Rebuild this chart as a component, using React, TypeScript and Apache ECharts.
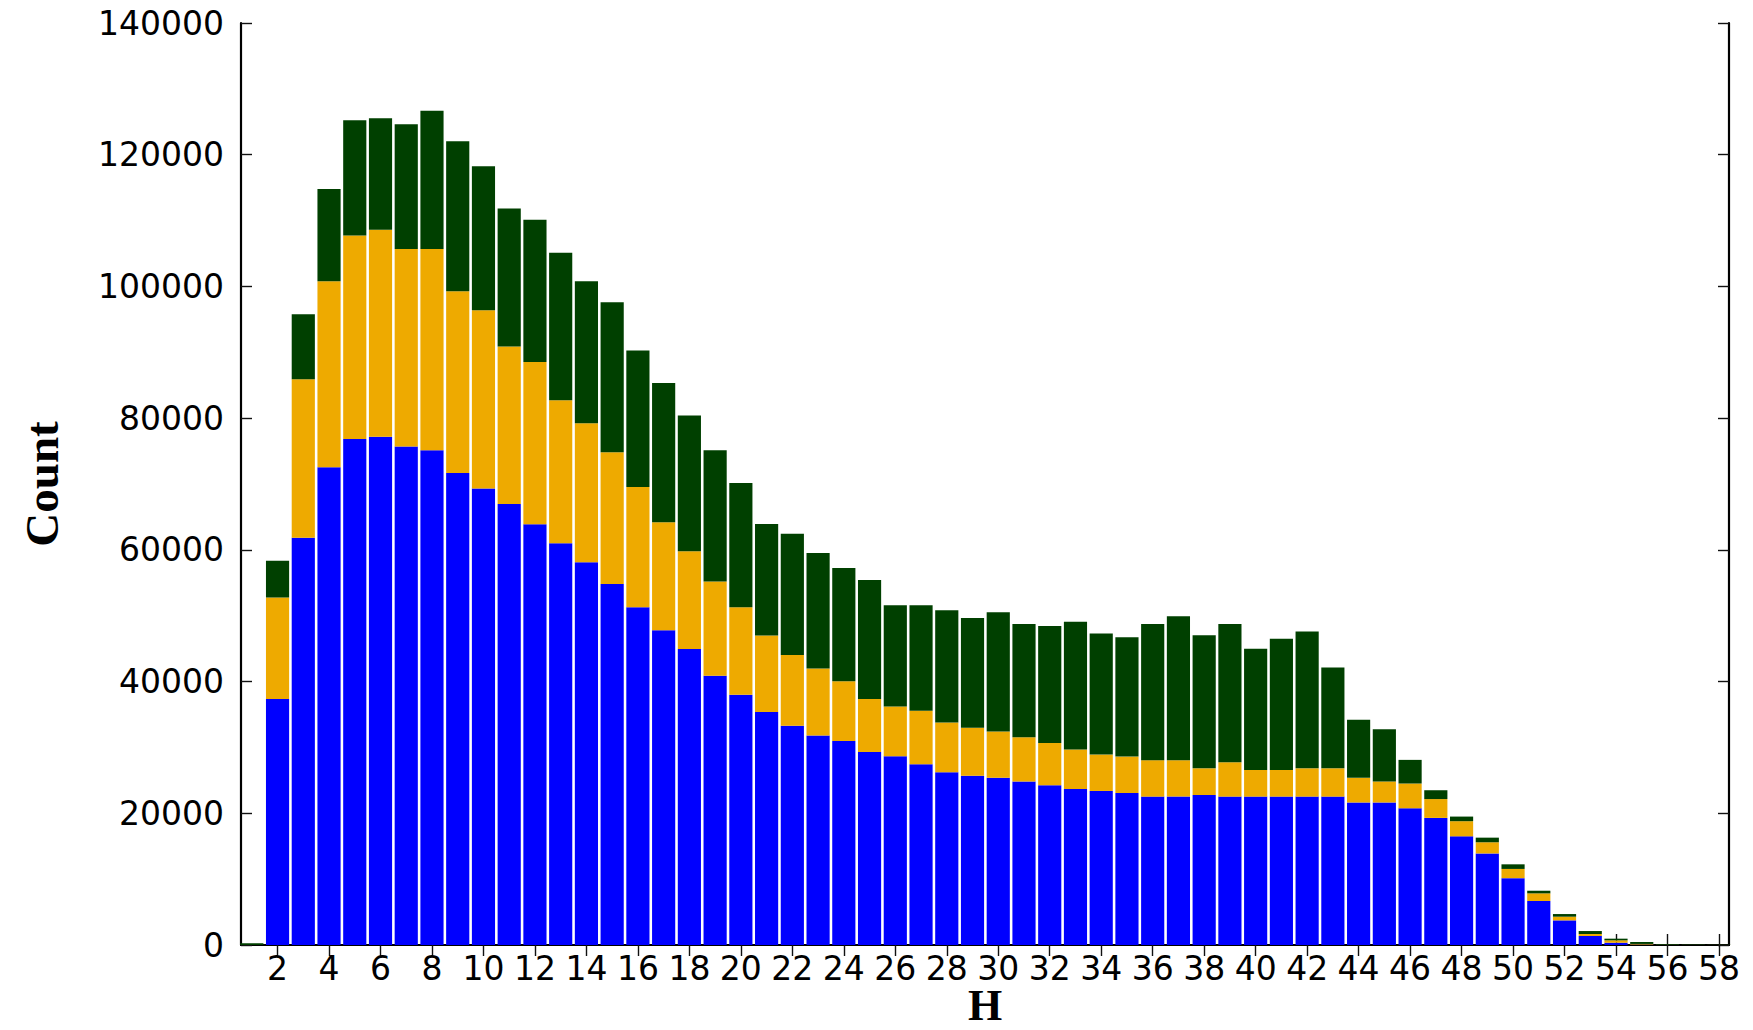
import React, { useEffect, useRef } from "react";
import * as echarts from "echarts";

// H bins (bar centres)
const hValues = [
  1, 2, 3, 4, 5, 6, 7, 8, 9, 10, 11, 12, 13, 14, 15, 16, 17, 18, 19, 20,
  21, 22, 23, 24, 25, 26, 27, 28, 29, 30, 31, 32, 33, 34, 35, 36, 37, 38, 39, 40,
  41, 42, 43, 44, 45, 46, 47, 48, 49, 50, 51, 52, 53, 54, 55, 56, 57, 58,
];

// bottom segment (blue)
const blueCounts = [
  0, 37360, 61840, 72540, 76820, 77170, 75710, 75110, 71670, 69300,
  66980, 63890, 61010, 58100, 54830, 51290, 47810, 44950, 40900, 37980,
  35370, 33280, 31830, 30980, 29290, 28670, 27440, 26230, 25690, 25380,
  24830, 24260, 23700, 23390, 23080, 22530, 22530, 22780, 22530, 22530,
  22530, 22530, 22530, 21640, 21640, 20760, 19300, 16500, 13900, 10150,
  6680, 3740, 1370, 350, 60, 20, 10, 5,
];

// middle segment (orange)
const orangeCounts = [
  0, 15420, 24060, 28250, 30930, 31440, 29980, 30580, 27600, 27100,
  23880, 24630, 21710, 21140, 19980, 18260, 16380, 14840, 14280, 13310,
  11620, 10750, 10140, 9060, 8070, 7530, 8140, 7560, 7280, 7020,
  6700, 6410, 5990, 5530, 5530, 5530, 5530, 4050, 5220, 4040,
  4040, 4300, 4300, 3740, 3190, 3760, 2860, 2300, 1700, 1400,
  1160, 560, 300, 360, 100, 30, 15, 10,
];

// top segment (dark green)
const greenCounts = [
  250, 5580, 9890, 13990, 17470, 16920, 18930, 20990, 22770, 21860,
  20980, 21610, 22410, 21550, 22800, 20740, 21160, 20620, 19930, 18870,
  16940, 18430, 17570, 17200, 18080, 15400, 16020, 17040, 16680, 18120,
  17200, 17750, 19410, 18380, 18120, 20670, 21850, 20210, 20980, 18430,
  19920, 20780, 15300, 8820, 7930, 3590, 1340, 700, 700, 700,
  400, 400, 450, 250, 300, 100, 60, 30,
];

const xTickValues = [
  2, 4, 6, 8, 10, 12, 14, 16, 18, 20, 22, 24, 26, 28, 30,
  32, 34, 36, 38, 40, 42, 44, 46, 48, 50, 52, 54, 56, 58,
];

const X_MIN = 0.58;
const X_MAX = 58.39;
const Y_MIN = 0;
const Y_MAX = 140000;
const Y_INTERVAL = 20000;

const W = 1753;
const H = 1030;
const GRID = { left: 241, right: 24, top: 23, bottom: 85 };
const BAR_FRACTION = 0.9;

export default function App() {
  const ref = useRef<HTMLDivElement>(null);

  useEffect(() => {
    if (!ref.current) return;
    const chart = echarts.init(ref.current, undefined, { renderer: "svg" });

    const plotW = W - GRID.left - GRID.right;
    const barWidth = (BAR_FRACTION * plotW) / (X_MAX - X_MIN);

    const labelFont = {
      fontFamily: "DejaVu Sans",
      fontSize: 33,
      color: "#000",
    };
    const axisLine = { show: true, lineStyle: { color: "#000", width: 2.2 } };
    const tickStyle = { color: "#111", width: 1.4 };

    // count first so that the stacked dimension is the count (y)
    const mk = (name: string, vals: number[], color: string) => ({
      name,
      type: "bar",
      stack: "total",
      xAxisIndex: 0,
      yAxisIndex: 0,
      barWidth,
      dimensions: ["count", "h"],
      encode: { x: "h", y: "count" },
      itemStyle: { color },
      emphasis: { disabled: true },
      data: hValues.map((h, i) => [vals[i], h]),
    });

    chart.setOption({
      animation: false,
      backgroundColor: "#fff",
      textStyle: { fontFamily: "DejaVu Sans" },
      grid: {
        left: GRID.left,
        right: GRID.right,
        top: GRID.top,
        bottom: GRID.bottom,
        containLabel: false,
        outerBoundsMode: "none",
      },
      xAxis: [
        {
          type: "value",
          position: "bottom",
          min: X_MIN,
          max: X_MAX,
          axisLine,
          axisTick: {
            show: true,
            inside: true,
            length: 11,
            customValues: xTickValues,
            lineStyle: tickStyle,
          },
          axisLabel: {
            ...labelFont,
            margin: 7,
            lineHeight: 33,
            customValues: xTickValues,
            formatter: (v: number) => String(v),
          },
          splitLine: { show: false },
          name: "H",
          nameLocation: "middle",
          nameGap: 40,
          nameMoveOverlap: false,
          nameTextStyle: {
            fontFamily: "Liberation Serif",
            fontWeight: "bold",
            fontSize: 44,
            lineHeight: 40,
            color: "#000",
          },
        },
        {
          type: "value",
          position: "top",
          min: X_MIN,
          max: X_MAX,
          axisLine,
          axisTick: {
            show: true,
            inside: true,
            length: 11,
            customValues: xTickValues,
            lineStyle: tickStyle,
          },
          axisLabel: { show: false },
          splitLine: { show: false },
        },
      ],
      yAxis: [
        {
          type: "value",
          position: "left",
          min: Y_MIN,
          max: Y_MAX,
          interval: Y_INTERVAL,
          axisLine,
          axisTick: { show: true, inside: true, length: 11, lineStyle: tickStyle },
          axisLabel: {
            ...labelFont,
            margin: 17,
            formatter: (v: number) => String(v),
          },
          splitLine: { show: false },
          name: "Count",
          nameLocation: "middle",
          nameRotate: 90,
          nameGap: 176,
          nameMoveOverlap: false,
          nameTextStyle: {
            fontFamily: "Liberation Serif",
            fontWeight: "bold",
            fontSize: 47,
            color: "#000",
          },
        },
        {
          type: "value",
          position: "right",
          min: Y_MIN,
          max: Y_MAX,
          interval: Y_INTERVAL,
          axisLine,
          axisTick: { show: true, inside: true, length: 11, lineStyle: tickStyle },
          axisLabel: { show: false },
          splitLine: { show: false },
        },
      ],
      series: [
        mk("blue", blueCounts, "#0000ff"),
        mk("orange", orangeCounts, "#eeaa00"),
        mk("green", greenCounts, "#004000"),
      ],
    });

    return () => chart.dispose();
  }, []);

  return (
    <div
      ref={ref}
      style={{ position: "fixed", left: 0, top: 0, width: W, height: H, background: "#fff" }}
    />
  );
}
